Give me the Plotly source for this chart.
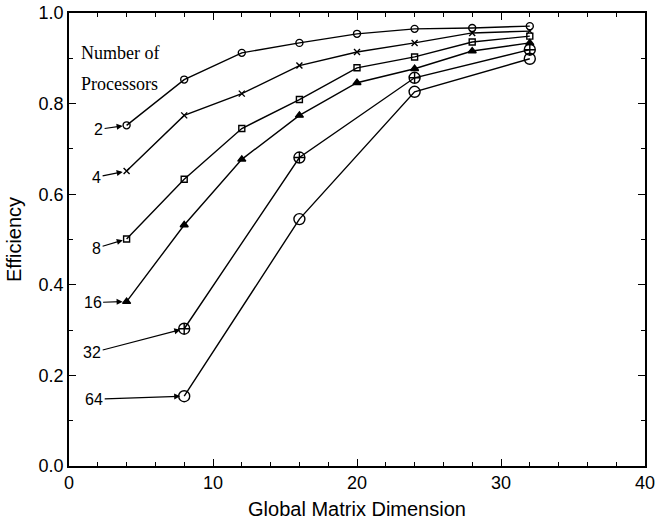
import plotly.graph_objects as go

dims = [4, 8, 12, 16, 20, 24, 28, 32]
dims_sparse = [8, 16, 24, 32]
eff_p2 = [0.752, 0.853, 0.912, 0.934, 0.954, 0.965, 0.967, 0.971]
eff_p4 = [0.651, 0.774, 0.822, 0.884, 0.914, 0.934, 0.956, 0.960]
eff_p8 = [0.501, 0.633, 0.745, 0.809, 0.879, 0.903, 0.936, 0.949]
eff_p16 = [0.363, 0.532, 0.677, 0.774, 0.846, 0.877, 0.916, 0.934]
eff_p32 = [0.303, 0.681, 0.857, 0.919]
eff_p64 = [0.154, 0.545, 0.826, 0.899]
proc_labels = ["2", "4", "8", "16", "32", "64"]

series = [
    (dims, eff_p2, "circle-open", 7),
    (dims, eff_p4, "x-thin-open", 6),
    (dims, eff_p8, "square-open", 6),
    (dims, eff_p16, "triangle-up", 7),
    (dims_sparse, eff_p32, "circle-cross-open", 11),
    (dims_sparse, eff_p64, "circle-open", 11),
]

fig = go.Figure()
for (xs, ys, sym, sz), name in zip(series, proc_labels):
    fig.add_trace(go.Scatter(
        x=xs, y=ys, mode="lines+markers", name=name,
        line=dict(color="black", width=1.4),
        marker=dict(symbol=sym, size=sz, color="black",
                    line=dict(color="black", width=1.4)),
        showlegend=False,
    ))

# label offsets (pixels) for the arrow annotations
offsets = [(-28, 4), (-30, 6), (-30, 9), (-34, 1), (-92, 24), (-90, 3)]
for (xs, ys, sym, sz), name, (ax, ay) in zip(series, proc_labels, offsets):
    fig.add_annotation(
        x=xs[0], y=ys[0], text=name, showarrow=True,
        ax=ax, ay=ay, arrowhead=2, arrowsize=1, arrowwidth=1.2,
        arrowcolor="black", standoff=4,
        font=dict(family="Liberation Sans, Arial", size=16, color="black"),
    )

serif = dict(family="Liberation Serif, Times New Roman", size=18, color="black")
fig.add_annotation(x=0.69, y=0.912, text="Number of", showarrow=False,
                   xanchor="left", yanchor="middle", font=serif)
fig.add_annotation(x=0.69, y=0.843, text="Processors", showarrow=False,
                   xanchor="left", yanchor="middle", font=serif)

tick_font = dict(family="Liberation Sans, Arial", size=18, color="black")
title_font = dict(family="Liberation Sans, Arial", size=20, color="black")
fig.update_xaxes(
    range=[0, 40], dtick=10, tick0=0, ticks="inside", ticklen=7, tickwidth=1.2,
    tickcolor="black", showline=True, linecolor="black", linewidth=1.5,
    mirror="allticks", showgrid=False, zeroline=False, automargin=False,
    ticklabeloverflow="allow",
    minor=dict(dtick=2, ticks="inside", ticklen=4, tickcolor="black", showgrid=False),
    tickfont=tick_font,
    title=dict(text="Global Matrix Dimension", font=title_font, standoff=10),
)
fig.update_yaxes(
    range=[0, 1.0], dtick=0.2, tick0=0, tickformat=".1f", ticks="inside", ticklen=7,
    tickwidth=1.2, tickcolor="black", showline=True, linecolor="black", linewidth=1.5,
    mirror="allticks", showgrid=False, zeroline=False, automargin=False,
    minor=dict(dtick=0.1, ticks="inside", ticklen=4, tickcolor="black", showgrid=False),
    tickfont=tick_font,
    title=dict(text="Efficiency", font=title_font, standoff=12),
)
fig.update_layout(
    width=656, height=524,
    margin=dict(l=69, r=11, t=13, b=58),
    paper_bgcolor="white", plot_bgcolor="white",
)
fig.write_html("out.html", config={"displayModeBar": False},
               post_script="document.body.style.margin='0';")
